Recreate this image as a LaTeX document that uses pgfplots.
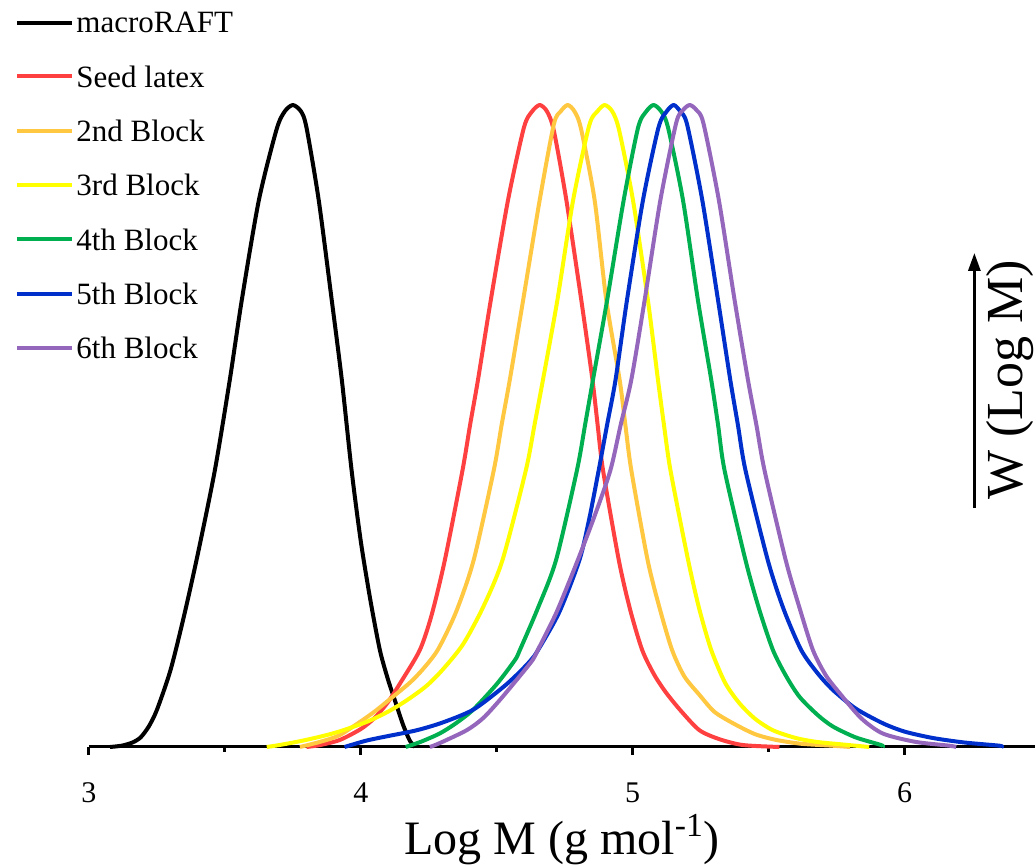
\documentclass[border=0pt]{standalone}
\usepackage{fontspec}
\setmainfont{Liberation Serif}
\usepackage{pgfplots}
\pgfplotsset{compat=1.18}
\usetikzlibrary{arrows.meta}
\definecolor{cred}{RGB}{255,64,64}
\definecolor{corange}{RGB}{255,200,64}
\definecolor{cyellow}{RGB}{255,255,0}
\definecolor{cgreen}{RGB}{0,176,80}
\definecolor{cblue}{RGB}{0,48,204}
\definecolor{cpurple}{RGB}{148,102,188}
\begin{document}
\begin{tikzpicture}
\begin{axis}[name=ax, scale only axis, width=473pt, height=373.5pt,
  xmin=3, xmax=6.48, ymin=0, ymax=1.1636, clip=false,
  axis x line=bottom, axis y line=none,
  x axis line style={-, line width=1.5pt},
  xtick={3,4,5,6}, minor xtick={3.5,4.5,5.5}, ytick=\empty,
  tick align=outside, major tick length=4pt, minor tick length=2.5pt,
  every tick/.style={black, line width=1.5pt},
  /pgf/number format/assume math mode=true,
  xticklabel style={font=\fontsize{15}{18}\selectfont, anchor=base, yshift=-24pt},
  xlabel={Log M (g mol\textsuperscript{-1})},
  xlabel style={font=\fontsize{24}{28}\selectfont, at={(axis description cs:0.5,0)}, anchor=base, yshift=-54pt},
  every axis plot/.append style={line width=2pt, no markers, line join=round, smooth, tension=0.45},
  legend image code/.code={\draw[#1, sharp plot] (0pt,0pt) -- (27.5pt,0pt);},
  legend style={draw=none, fill=none, at={(axis cs:2.728,1.145)}, anchor=north west,
    font=\fontsize{15.5}{18}\selectfont, row sep=16.4pt, inner sep=0pt,
    nodes={inner xsep=1pt, inner ysep=0pt, text depth=0pt}},
  legend cell align=left,
]
\addplot[black] table {
x y
3.077 0
3.12 0.002
3.16 0.007
3.19 0.015
3.22 0.032
3.25 0.058
3.30 0.12
3.35 0.205
3.40 0.30
3.463 0.431
3.518 0.572
3.562 0.696
3.625 0.852
3.69 0.962
3.72 0.99
3.75 1.0
3.78 0.99
3.80 0.965
3.845 0.852
3.893 0.696
3.93 0.572
3.966 0.431
4.00 0.32
4.035 0.229
4.070 0.151
4.10 0.105
4.125 0.073
4.155 0.035
4.18 0.01
4.20 0.0
};
\addlegendentry{macroRAFT}
\addplot[cred] table {
x y
3.80 0
3.85 0.003
3.923 0.011
4.00 0.028
4.05 0.045
4.10 0.07
4.15 0.103
4.217 0.151
4.26 0.205
4.309 0.291
4.374 0.431
4.402 0.502
4.431 0.572
4.478 0.696
4.5415 0.852
4.60 0.965
4.63 0.99
4.658 1.0
4.685 0.99
4.71 0.96
4.756 0.852
4.811 0.696
4.852 0.572
4.871 0.502
4.891 0.431
4.949 0.291
4.99 0.215
5.035 0.151
5.08 0.112
5.124 0.084
5.18 0.055
5.246 0.026
5.32 0.012
5.406 0.003
5.54 0
};
\addlegendentry{Seed latex}
\addplot[corange] table {
x y
3.776 0
3.85 0.008
3.92 0.018
4.00 0.04
4.05 0.055
4.10 0.072
4.18 0.10
4.23 0.122
4.284 0.152
4.35 0.21
4.415 0.291
4.489 0.431
4.518 0.502
4.548 0.572
4.597 0.696
4.658 0.852
4.71 0.97
4.735 0.99
4.761 1.0
4.786 0.99
4.81 0.963
4.860 0.852
4.903 0.696
4.952 0.572
4.973 0.502
4.995 0.431
5.055 0.291
5.10 0.215
5.145 0.151
5.19 0.11
5.246 0.081
5.30 0.055
5.369 0.037
5.45 0.02
5.528 0.011
5.62 0.005
5.735 0.002
5.80 0
};
\addlegendentry{2nd Block}
\addplot[cyellow] table {
x y
3.654 0
3.70 0.003
3.776 0.009
3.85 0.016
3.92 0.024
4.021 0.039
4.10 0.055
4.17 0.073
4.241 0.095
4.30 0.12
4.376 0.16
4.45 0.218
4.521 0.291
4.607 0.431
4.639 0.502
4.670 0.572
4.723 0.696
4.781 0.852
4.84 0.968
4.87 0.99
4.897 1.0
4.925 0.99
4.95 0.961
5.001 0.852
5.056 0.696
5.093 0.572
5.115 0.502
5.139 0.431
5.204 0.291
5.245 0.215
5.289 0.151
5.34 0.1
5.393 0.068
5.45 0.044
5.516 0.026
5.60 0.014
5.675 0.008
5.77 0.004
5.87 0
};
\addlegendentry{3rd Block}
\addplot[cgreen] table {
x y
4.165 0
4.22 0.008
4.290 0.021
4.35 0.037
4.413 0.058
4.50 0.098
4.567 0.1355
4.585 0.151
4.65 0.215
4.718 0.291
4.795 0.431
4.825 0.502
4.854 0.572
4.906 0.696
4.967 0.852
5.02 0.965
5.05 0.99
5.077 1.0
5.105 0.99
5.13 0.965
5.185 0.852
5.240 0.696
5.289 0.572
5.314 0.502
5.338 0.431
5.415 0.291
5.465 0.215
5.516 0.151
5.565 0.11
5.614 0.078
5.68 0.05
5.736 0.032
5.82 0.015
5.914 0.003
5.92 0
};
\addlegendentry{4th Block}
\addplot[cblue] table {
x y
3.94 0
4.021 0.010
4.10 0.017
4.205 0.026
4.30 0.038
4.413 0.058
4.52 0.092
4.58 0.115
4.626 0.1355
4.652 0.151
4.73 0.21
4.804 0.291
4.84 0.355
4.875 0.431
4.906 0.502
4.937 0.572
4.979 0.696
5.038 0.852
5.095 0.965
5.125 0.99
5.151 1.0
5.175 0.99
5.20 0.97
5.256 0.852
5.314 0.696
5.359 0.572
5.387 0.502
5.415 0.431
5.497 0.291
5.555 0.215
5.620 0.151
5.68 0.115
5.736 0.089
5.82 0.06
5.920 0.037
6.00 0.024
6.104 0.014
6.22 0.007
6.349 0.002
6.357 0
};
\addlegendentry{5th Block}
\addplot[cpurple] table {
x y
4.254 0
4.290 0.006
4.389 0.026
4.45 0.045
4.511 0.073
4.58 0.108
4.632 0.1355
4.651 0.151
4.72 0.21
4.798 0.291
4.86 0.36
4.918 0.431
4.956 0.502
4.995 0.572
5.044 0.696
5.102 0.852
5.16 0.972
5.185 0.992
5.210 1.0
5.235 0.992
5.26 0.972
5.317 0.852
5.375 0.696
5.424 0.572
5.455 0.502
5.485 0.431
5.563 0.291
5.615 0.215
5.663 0.151
5.710 0.112
5.761 0.084
5.84 0.045
5.920 0.021
6.04 0.008
6.165 0.002
6.19 0
};
\addlegendentry{6th Block}
\draw[line width=1.5pt, -{Triangle[length=9pt,width=6pt]}] (axis cs:6.257,0.372) -- (axis cs:6.257,0.7695);
\node[rotate=90, font=\fontsize{26}{30}\selectfont] at (axis cs:6.39,0.5717) {W (Log M)};
\end{axis}
\pgfresetboundingbox
\path ([xshift=-44.5pt,yshift=-59pt]ax.south west) rectangle (ax.north east);
\end{tikzpicture}
\end{document}
